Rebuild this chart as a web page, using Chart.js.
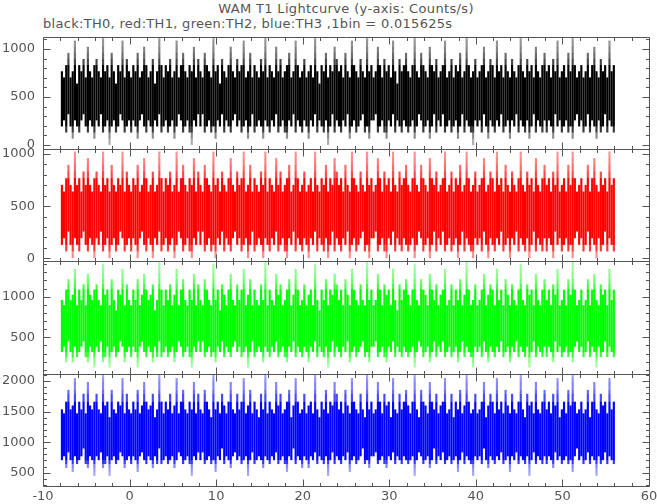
<!DOCTYPE html>
<html lang="en">
<head>
<meta charset="UTF-8" />
<title>WAM T1 Lightcurve</title>
<script src="https://cdn.jsdelivr.net/npm/chart.js"></script>
<style>
  body {
    margin: 0;
    width: 657px;
    height: 504px;
    overflow: hidden;
    position: relative;
    background: #fff;
    font-family: 'DejaVu Sans', sans-serif;
    color: #555;
  }
  .title {
    position: absolute;
    top: 1px;
    left: 43px;
    width: 606px;
    text-align: center;
    font-size: 13px;
    letter-spacing: 0.35px;
  }
  .subtitle {
    position: absolute;
    top: 16px;
    left: 43px;
    font-size: 13px;
    letter-spacing: 0.3px;
  }
  canvas { position: absolute; left: 0; }
</style>
</head>
<body>
  <div class="title">WAM T1 Lightcurve (y-axis: Counts/s)</div>
  <div class="subtitle">black:TH0, red:TH1, green:TH2, blue:TH3 ,1bin = 0.015625s</div>
  <canvas id="p0"></canvas>
  <canvas id="p1"></canvas>
  <canvas id="p2"></canvas>
  <canvas id="p3"></canvas>

<script>
// Light curve: for every 0.25 s slice, the lowest and
// highest rate reached (rates come in steps of 64 c/s = 1 count per 1/64 s bin)
const tStart = -7.94;
const binWidth = 0.25;

const th0Low = [
  192,256,128,320,192,64,256,192,128,256,320,192,128,256,192,64,
  256,192,320,128,192,256,0,192,256,128,192,320,256,128,192,256,
  128,256,192,64,256,320,192,128,256,192,64,256,192,320,128,192,
  256,128,192,256,64,192,320,256,128,192,256,128,0,256,192,320,
  192,320,128,192,256,128,192,64,256,192,320,128,256,192,128,256,
  320,192,256,128,192,256,64,192,320,128,192,256,192,64,256,192,
  128,256,192,320,128,192,256,128,64,256,192,320,128,256,192,128,
  256,192,64,256,192,320,128,256,192,128,256,0,192,320,128,256,
  192,128,256,192,320,64,192,256,128,192,256,320,128,192,64,256,
  256,320,128,192,256,128,64,256,192,320,128,256,192,128,256,192,
  128,192,256,64,192,320,256,128,192,256,64,192,320,128,256,192,
  320,128,192,256,128,192,256,64,192,320,128,256,192,128,0,256,
  192,256,128,320,192,64,256,192,128,256,192,320,128,192,256,64,
  256,192,320,128,256,192,128,256,64,192,320,128,256,192,128,256,
  128,256,192,64,320,192,256,128,192,256,128,192,64,256,320,192,
  256,128,192,320,128,256,192,64,256,128,192,320,128,256,192,128
];
const th0High = [
  768,704,832,960,704,768,1088,640,832,768,896,704,1024,768,704,832,
  896,768,704,1152,768,832,704,960,768,640,832,768,1088,704,896,768,
  704,832,768,960,704,768,1024,832,704,768,896,640,768,1152,832,704,
  832,768,896,704,768,1088,704,832,960,768,704,832,768,1024,704,896,
  768,704,960,832,768,704,1152,768,832,640,896,768,704,832,1024,768,
  704,896,768,832,1088,704,768,960,704,832,768,704,896,768,1152,704,
  832,768,704,1024,768,896,704,768,832,960,704,768,1088,832,704,768,
  896,704,768,832,704,1152,768,640,832,768,960,704,832,768,1024,896,
  768,832,704,960,768,704,1088,832,768,704,896,768,704,1152,768,832,
  704,768,1024,832,704,896,768,832,704,1088,768,640,896,768,832,960,
  768,704,832,1152,768,704,960,832,768,704,1024,832,768,896,704,768,
  832,1088,704,768,896,704,832,768,960,704,768,1152,832,704,768,896,
  704,768,832,1024,704,768,896,832,704,1088,768,832,704,960,768,704,
  896,768,704,832,1152,768,704,896,768,832,704,1024,768,704,832,960,
  768,832,704,896,768,1088,704,768,832,704,960,768,1152,832,704,768,
  832,704,768,960,704,832,1024,768,704,896,768,832,704,1088,768,832
];

const th1Low = [
  128,192,64,256,128,0,192,128,64,192,256,128,64,192,128,0,
  192,128,256,64,128,192,0,128,192,64,128,256,192,64,128,192,
  64,192,128,0,192,256,128,64,192,128,0,192,128,256,64,128,
  192,64,128,192,0,128,256,192,64,128,192,64,0,192,128,256,
  128,256,64,128,192,64,128,0,192,128,256,64,192,128,64,192,
  256,128,192,64,128,192,0,128,256,64,128,192,128,0,192,128,
  64,192,128,256,64,128,192,64,0,192,128,256,64,192,128,64,
  192,128,0,192,128,256,64,192,128,64,192,0,128,256,64,192,
  128,64,192,128,256,0,128,192,64,128,192,256,64,128,0,192,
  192,256,64,128,192,64,0,192,128,256,64,192,128,64,192,128,
  64,128,192,0,128,256,192,64,128,192,0,128,256,64,192,128,
  256,64,128,192,64,128,192,0,128,256,64,192,128,64,0,192,
  128,192,64,256,128,0,192,128,64,192,128,256,64,128,192,0,
  192,128,256,64,192,128,64,192,0,128,256,64,192,128,64,192,
  64,192,128,0,256,128,192,64,128,192,64,128,0,192,256,128,
  192,64,128,256,64,192,128,0,192,64,128,256,64,192,128,64
];
const th1High = [
  704,640,768,896,704,640,1024,704,768,640,832,704,960,704,640,768,
  832,704,640,1024,704,768,640,896,704,640,768,704,1024,640,832,704,
  640,768,704,896,640,704,960,768,640,704,832,640,704,1024,768,640,
  768,704,832,640,704,1024,640,768,896,704,640,768,704,960,640,832,
  704,640,896,768,704,640,1024,704,768,640,832,704,640,768,960,704,
  640,832,704,768,1024,640,704,896,640,768,704,640,832,704,1024,640,
  768,704,640,960,704,832,640,704,768,896,640,704,1024,768,640,704,
  832,640,704,768,640,1024,704,640,768,704,896,640,768,704,960,832,
  704,768,640,896,704,640,1024,768,704,640,832,704,640,1024,704,768,
  640,704,960,768,640,832,704,768,640,1024,704,640,832,704,768,896,
  704,640,768,1024,704,640,896,768,704,640,960,768,704,832,640,704,
  768,1024,640,704,832,640,768,704,896,640,704,1024,768,640,704,832,
  640,704,768,960,640,704,832,768,640,1024,704,768,640,896,704,640,
  832,704,640,768,1024,704,640,832,704,768,640,960,704,640,768,896,
  704,768,640,832,704,1024,640,704,768,640,896,704,1024,768,640,704,
  768,640,704,896,640,768,960,704,640,832,704,768,640,1024,704,768
];

const th2Low = [
  320,384,192,448,320,192,384,256,320,384,448,256,192,384,320,128,
  384,320,448,192,256,384,128,320,384,256,320,448,384,192,320,384,
  256,384,320,128,384,448,320,256,384,320,192,384,256,448,256,320,
  384,256,320,384,192,320,448,384,256,320,384,256,128,384,320,448,
  320,448,256,320,384,256,320,192,384,320,448,256,384,320,256,384,
  448,320,384,256,320,384,128,320,448,256,320,384,320,192,384,320,
  256,384,320,448,256,320,384,256,192,384,320,448,256,384,320,256,
  384,320,192,384,320,448,256,384,320,256,384,128,320,448,256,384,
  320,256,384,320,448,192,320,384,256,320,384,448,256,320,192,384,
  384,448,256,320,384,256,192,384,320,448,256,384,320,256,384,320,
  256,320,384,128,320,448,384,256,320,384,192,320,448,256,384,320,
  448,256,320,384,256,320,384,192,320,448,256,384,320,256,128,384,
  320,384,256,448,320,192,384,320,256,384,320,448,256,320,384,192,
  384,320,448,256,384,320,256,384,128,320,448,256,384,320,256,384,
  256,384,320,192,448,320,384,256,320,384,256,320,192,384,448,320,
  384,256,320,448,256,384,320,128,384,256,320,448,256,384,320,256
];
const th2High = [
  960,896,1088,1216,960,1024,1344,896,1088,960,1152,896,1280,1024,960,1088,
  1152,960,896,1408,1024,1088,896,1216,960,832,1088,1024,1344,896,1152,960,
  896,1088,960,1216,896,1024,1280,1088,960,1024,1152,832,960,1472,1088,896,
  1088,960,1152,896,1024,1344,896,1088,1216,960,896,1088,960,1280,896,1152,
  960,896,1216,1088,960,896,1408,960,1088,832,1152,1024,896,1088,1280,960,
  896,1152,960,1088,1344,896,1024,1216,896,1088,960,896,1152,960,1472,896,
  1088,960,896,1280,1024,1152,896,960,1088,1216,896,1024,1344,1088,896,960,
  1152,896,1024,1088,896,1408,960,832,1088,960,1216,896,1088,1024,1280,1152,
  960,1088,896,1216,1024,896,1344,1088,960,896,1152,960,896,1472,960,1088,
  896,960,1280,1088,896,1152,1024,1088,896,1344,960,832,1152,960,1088,1216,
  1024,896,1088,1408,960,896,1216,1088,1024,896,1280,1088,960,1152,896,1024,
  1088,1344,896,960,1152,896,1088,960,1216,896,1024,1472,1088,896,960,1152,
  896,960,1088,1280,896,1024,1152,1088,896,1344,960,1088,896,1216,1024,896,
  1152,960,896,1088,1408,960,896,1152,1024,1088,896,1280,960,896,1088,1216,
  960,1088,896,1152,1024,1344,896,960,1088,896,1216,1024,1472,1088,896,960,
  1088,896,960,1216,896,1088,1280,960,896,1152,1024,1088,896,1344,960,1088
];

const th3Low = [
  704,768,576,832,704,512,768,640,704,768,896,640,576,768,704,448,
  768,704,832,576,640,768,448,704,768,640,704,832,768,576,704,768,
  640,768,704,512,768,832,704,640,768,704,576,768,640,896,640,704,
  768,640,704,768,576,704,832,768,640,704,768,640,448,768,704,832,
  704,832,640,704,768,640,704,512,768,704,896,640,768,704,576,768,
  832,704,768,640,704,768,448,704,832,640,704,768,704,576,768,704,
  640,768,704,832,640,704,768,640,512,768,704,896,640,768,704,576,
  768,704,576,768,704,832,640,768,704,640,768,448,704,832,640,768,
  704,640,768,704,832,512,704,768,640,704,768,896,640,704,576,768,
  768,832,640,704,768,640,576,768,704,832,640,768,704,640,768,704,
  640,704,768,448,704,832,768,640,704,768,576,704,896,640,768,704,
  832,640,704,768,640,704,768,512,704,832,640,768,704,640,448,768,
  704,768,640,896,704,576,768,704,640,768,704,832,640,704,768,512,
  768,704,832,640,768,704,640,768,448,704,832,640,768,704,640,768,
  640,768,704,576,832,704,768,640,704,768,640,704,512,768,896,704,
  768,640,704,832,640,768,704,448,768,640,704,832,640,768,704,640
];
const th3High = [
  1536,1472,1664,1856,1536,1600,2048,1472,1664,1536,1792,1472,1984,1600,1536,1664,
  1792,1536,1472,2112,1600,1664,1408,1856,1536,1472,1664,1600,2048,1472,1792,1536,
  1472,1664,1536,1856,1472,1600,1984,1664,1536,1600,1792,1408,1536,2112,1664,1472,
  1664,1536,1792,1472,1600,2048,1472,1664,1856,1536,1472,1664,1536,1984,1472,1792,
  1536,1472,1856,1664,1536,1408,2112,1536,1664,1472,1792,1600,1472,1664,1984,1536,
  1472,1792,1536,1664,2048,1472,1600,1856,1472,1664,1536,1408,1792,1536,2112,1472,
  1664,1536,1472,1984,1600,1792,1472,1536,1664,1856,1408,1600,2048,1664,1472,1536,
  1792,1472,1600,1664,1472,2112,1536,1408,1664,1536,1856,1472,1664,1600,1984,1792,
  1536,1664,1472,1856,1600,1472,2048,1664,1536,1472,1792,1536,1408,2112,1536,1664,
  1472,1536,1984,1664,1472,1792,1600,1664,1408,2048,1536,1472,1792,1536,1664,1856,
  1600,1472,1664,2112,1536,1408,1856,1664,1600,1472,1984,1664,1536,1792,1472,1600,
  1664,2048,1472,1536,1792,1408,1664,1536,1856,1472,1600,2112,1664,1472,1536,1792,
  1472,1536,1664,1984,1408,1600,1792,1664,1472,2048,1536,1664,1472,1856,1600,1472,
  1792,1536,1472,1664,2112,1536,1408,1792,1600,1664,1472,1984,1536,1472,1664,1856,
  1536,1664,1472,1792,1600,2048,1408,1536,1664,1472,1856,1600,2112,1664,1472,1536,
  1664,1472,1536,1856,1408,1664,1984,1536,1472,1792,1600,1664,1472,2048,1536,1664
];

const lows = [th0Low, th1Low, th2Low, th3Low];
const highs = [th0High, th1High, th2High, th3High];
const rgb = [[0, 0, 0], [255, 0, 0], [0, 255, 0], [0, 0, 255]];

// axis ranges and labelled ticks
const xRange = [-10, 60];
const xTicks = [-10, 0, 10, 20, 30, 40, 50, 60];
const yRanges = [[-42, 1125], [-26, 1048], [48, 1440], [282, 2115]];
const yTicks = [[0, 500, 1000], [0, 500, 1000], [500, 1000], [500, 1000, 1500, 2000]];

// panel boxes on the page
const panelTop = [37, 149, 261, 374];
const panelBottom = [149, 261, 374, 486];
const PAD = 15;
const W = 657, H = 504;
const axisColor = '#555';
const tickFont = { family: "'DejaVu Sans', sans-serif", size: 13 };

// levels reached by only a few slices are drawn paler, like the
// thin single-bin spikes of the original plot
function densityFill(chart, i) {
  const [r, g, b] = rgb[i];
  const y = chart.scales.y;
  const y0 = y.getPixelForValue(y.min);
  const y1 = y.getPixelForValue(y.max);
  const lo = lows[i], hi = highs[i], n = lo.length;
  const grad = chart.ctx.createLinearGradient(0, y0, 0, y1);
  for (let v = y.min; v <= y.max; v += 8) {
    let c = 0;
    for (let k = 0; k < n; k++) if (lo[k] <= v && hi[k] >= v) c++;
    const a = Math.min(1, 0.3 + 1.5 * c / n);
    grad.addColorStop((v - y.min) / (y.max - y.min), `rgba(${r},${g},${b},${a.toFixed(3)})`);
  }
  return grad;
}

// frame + inward ticks on all four sides
const frame = {
  id: 'frame',
  afterDatasetsDraw(chart) {
    const { ctx, chartArea: a, scales: { x, y } } = chart;
    const L = a.left + 0.5, R = a.right + 0.5, T = a.top + 0.5, B = a.bottom + 0.5;
    ctx.save();
    ctx.strokeStyle = axisColor;
    ctx.lineWidth = 1;
    ctx.beginPath();
    ctx.rect(L, T, R - L, B - T);
    for (let v = xRange[0]; v <= xRange[1]; v += 2) {
      const px = Math.round(x.getPixelForValue(v)) + 0.5;
      const len = v % 10 === 0 ? 7 : 3.5;
      ctx.moveTo(px, B); ctx.lineTo(px, B - len);
      ctx.moveTo(px, T); ctx.lineTo(px, T + len);
    }
    for (let v = Math.ceil(y.min / 100) * 100; v <= y.max; v += 100) {
      const py = Math.round(y.getPixelForValue(v)) + 0.5;
      const len = v % 500 === 0 ? 7 : 3.5;
      ctx.moveTo(L, py); ctx.lineTo(L + len, py);
      ctx.moveTo(R, py); ctx.lineTo(R - len, py);
    }
    ctx.stroke();
    ctx.restore();
  }
};

function makePanel(i) {
  const last = i === lows.length - 1;
  const canvas = document.getElementById('p' + i);
  const top = panelTop[i] - PAD;
  const height = last ? H - top : panelBottom[i] - panelTop[i] + 2 * PAD;
  canvas.style.top = top + 'px';
  canvas.width = W;
  canvas.height = height;

  const bars = lows[i].map((lo, k) => ({
    x: tStart + (k + 0.5) * binWidth,
    y: [lo, highs[i][k]]
  }));

  const xScale = {
    type: 'linear',
    min: xRange[0],
    max: xRange[1],
    offset: false,
    display: last,
    grid: { display: false, drawTicks: false, offset: false },
    border: { display: false },
    afterBuildTicks: s => { s.ticks = xTicks.map(v => ({ value: v })); },
    ticks: {
      padding: 3, color: axisColor, font: tickFont, autoSkip: false, maxRotation: 0,
      callback: v => String(v)
    }
  };
  if (last) {
    xScale.afterFit = s => { s.height = 18; s.paddingLeft = 0; s.paddingRight = 0; };
  }

  // build the shading once the scales have their final size
  const shade = {
    id: 'shade',
    afterLayout(chart) { chart.$fill = densityFill(chart, i); }
  };

  return new Chart(canvas, {
    type: 'bar',
    data: {
      datasets: [{
        data: bars,
        backgroundColor: c => c.chart.$fill || `rgb(${rgb[i].join(',')})`,
        borderWidth: 0,
        barPercentage: 1,
        categoryPercentage: 1,
        inflateAmount: 0,
        clip: 0
      }]
    },
    options: {
      responsive: false,
      animation: false,
      events: [],
      layout: { padding: { top: PAD, bottom: last ? 0 : PAD, left: 0, right: 8 } },
      plugins: { legend: { display: false }, tooltip: { enabled: false } },
      scales: {
        x: xScale,
        y: {
          type: 'linear',
          min: yRanges[i][0],
          max: yRanges[i][1],
          grid: { display: false, drawTicks: false },
          border: { display: false },
          afterBuildTicks: s => { s.ticks = yTicks[i].map(v => ({ value: v })); },
          afterFit: s => { s.width = 43; s.paddingTop = 0; s.paddingBottom = 0; },
          ticks: {
            padding: 8, color: axisColor, font: tickFont, autoSkip: false,
            callback: v => String(v)
          }
        }
      }
    },
    plugins: [shade, frame]
  });
}

lows.forEach((s, i) => makePanel(i));
</script>
</body>
</html>
